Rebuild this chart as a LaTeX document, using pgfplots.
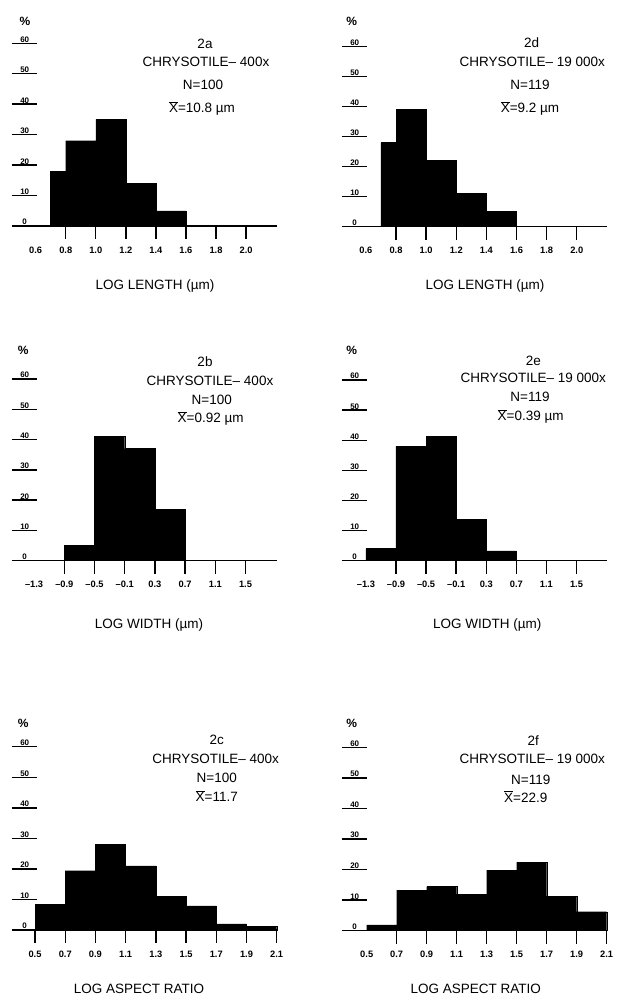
\documentclass[border=0pt]{standalone}
\usepackage{fontspec}
\setmainfont{Liberation Sans}
\usepackage{pgfplots}
\pgfplotsset{compat=1.18}
\pgfplotsset{
  panel/.style={
    scale only axis, clip=false, width=265pt, anchor=south west,
    ymin=0, ymax=60,
    axis x line=bottom, axis y line=left,
    x axis line style={-, line width=1.6pt},
    y axis line style={draw=none},
    major tick length=0pt,
    tick style={draw=none},
    ytick={0,10,...,60},
    yticklabel style={anchor=south, xshift=13pt, inner sep=0.8pt, font=\bfseries\fontsize{8}{8}\selectfont},
    xticklabel style={anchor=center, yshift=-24pt, font=\bfseries\fontsize{9.3}{10}\selectfont},
    /pgf/number format/assume math mode=true,
    unbounded coords=jump,
  },
  bars/.style={ybar interval, fill=black, draw=black, line width=0.4pt},
  tk/.style={ycomb, line width=1.4pt, black, mark=none},
  yl/.style={line width=1.4pt, black, mark=none},
}
\newcommand\tf{\fontsize{13.5}{14}\selectfont}
\newcommand\Tx[3]{\node[anchor=base,font=\tf,inner sep=0pt] at (#1pt,991.2pt-#2pt) {#3};}
\newcommand\Pct[2]{\node[font=\bfseries\fontsize{12}{12}\selectfont,inner sep=0pt] at (#1pt,996pt-#2pt) {\%};}
\newcommand\xb{$\overline{\mbox{X}}$}
\begin{document}
\begin{tikzpicture}
\useasboundingbox (0,0) rectangle (617pt,996pt);

% ---------- 2a ----------
\begin{axis}[panel, at={(11.7pt,770pt)}, height=182.7pt, xmin=0.4405, xmax=2.204,
  xtick={0.6,0.8,1.0,1.2,1.4,1.6,1.8,2.0}, xticklabels={0.6,0.8,1.0,1.2,1.4,1.6,1.8,2.0}]
\addplot[bars] coordinates {(0.7,18)(0.8,28)(1.0,35)(1.2,14)(1.4,5)(1.6,0)};
\addplot[tk] coordinates {(0.8,-4.3)(1.0,-4.3)(1.2,-4.3)(1.4,-4.3)(1.6,-4.3)(1.8,-4.3)(2.0,-4.3)};
\addplot[yl] coordinates {(0.4405,10)(0.607,10)(0.5,nan)(0.4405,20)(0.607,20)(0.5,nan)(0.4405,30)(0.607,30)(0.5,nan)(0.4405,40)(0.607,40)(0.5,nan)(0.4405,50)(0.607,50)(0.5,nan)(0.4405,60)(0.607,60)};
\end{axis}

% ---------- 2d ----------
\begin{axis}[panel, at={(341.7pt,769.3pt)}, height=180pt, xmin=0.4394, xmax=2.199,
  xtick={0.6,0.8,1.0,1.2,1.4,1.6,1.8,2.0}, xticklabels={0.6,0.8,1.0,1.2,1.4,1.6,1.8,2.0}]
\addplot[bars] coordinates {(0.7,28)(0.8,39)(1.0,22)(1.2,11)(1.4,5)(1.6,0)};
\addplot[tk] coordinates {(0.8,-4.3)(1.0,-4.3)(1.2,-4.3)(1.4,-4.3)(1.6,-4.3)(1.8,-4.3)(2.0,-4.3)};
\addplot[yl] coordinates {(0.4394,10)(0.605,10)(0.5,nan)(0.4394,20)(0.605,20)(0.5,nan)(0.4394,30)(0.605,30)(0.5,nan)(0.4394,40)(0.605,40)(0.5,nan)(0.4394,50)(0.605,50)(0.5,nan)(0.4394,60)(0.605,60)};
\end{axis}

% ---------- 2b ----------
\begin{axis}[panel, at={(11.7pt,435.3pt)}, height=181.7pt, xmin=-1.597, xmax=1.913,
  xtick={-1.3,-0.9,-0.5,-0.1,0.3,0.7,1.1,1.5}, xticklabels={–1.3,–0.9,–0.5,–0.1,0.3,0.7,1.1,1.5}]
\addplot[bars] coordinates {(-0.9,5)(-0.5,41)(-0.1,37)(0.3,17)(0.7,0)};
\addplot[tk] coordinates {(-0.9,-4.3)(-0.5,-4.3)(-0.1,-4.3)(0.3,-4.3)(0.7,-4.3)(1.1,-4.3)(1.5,-4.3)};
\addplot[yl] coordinates {(-1.597,10)(-1.266,10)(0,nan)(-1.597,20)(-1.266,20)(0,nan)(-1.597,30)(-1.266,30)(0,nan)(-1.597,40)(-1.266,40)(0,nan)(-1.597,50)(-1.266,50)(0,nan)(-1.597,60)(-1.266,60)};
\end{axis}

% ---------- 2e ----------
\begin{axis}[panel, at={(341.7pt,435.3pt)}, height=180.7pt, xmin=-1.622, xmax=1.902,
  xtick={-1.3,-0.9,-0.5,-0.1,0.3,0.7,1.1,1.5}, xticklabels={–1.3,–0.9,–0.5,–0.1,0.3,0.7,1.1,1.5}]
\addplot[bars] coordinates {(-1.3,4)(-0.9,38)(-0.5,41.4)(-0.1,13.7)(0.3,3.3)(0.7,0)};
\addplot[tk] coordinates {(-0.9,-4.3)(-0.5,-4.3)(-0.1,-4.3)(0.3,-4.3)(0.7,-4.3)(1.1,-4.3)(1.5,-4.3)};
\addplot[yl] coordinates {(-1.622,10)(-1.29,10)(0,nan)(-1.622,20)(-1.29,20)(0,nan)(-1.622,30)(-1.29,30)(0,nan)(-1.622,40)(-1.29,40)(0,nan)(-1.622,50)(-1.29,50)(0,nan)(-1.622,60)(-1.29,60)};
\end{axis}

% ---------- 2c ----------
\begin{axis}[panel, at={(11.7pt,66pt)}, height=183.3pt, xmin=0.3457, xmax=2.1,
  xtick={0.5,0.7,0.9,1.1,1.3,1.5,1.7,1.9,2.1}, xticklabels={0.5,0.7,0.9,1.1,1.3,1.5,1.7,1.9,2.1}]
\addplot[bars] coordinates {(0.5,8.5)(0.7,19.4)(0.9,28.1)(1.1,21)(1.3,11.1)(1.5,7.9)(1.7,2.0)(1.9,1.3)(2.1,0)};
\addplot[tk] coordinates {(0.5,-4.3)(0.7,-4.3)(0.9,-4.3)(1.1,-4.3)(1.3,-4.3)(1.5,-4.3)(1.7,-4.3)(1.9,-4.3)(2.1,-4.3)};
\addplot[yl] coordinates {(0.3457,10)(0.511,10)(0.4,nan)(0.3457,20)(0.511,20)(0.4,nan)(0.3457,30)(0.511,30)(0.4,nan)(0.3457,40)(0.511,40)(0.4,nan)(0.3457,50)(0.511,50)(0.4,nan)(0.3457,60)(0.511,60)};
\end{axis}

% ---------- 2f ----------
\begin{axis}[panel, at={(341.7pt,65.3pt)}, height=183.4pt, xmin=0.3333, xmax=2.1,
  xtick={0.5,0.7,0.9,1.1,1.3,1.5,1.7,1.9,2.1}, xticklabels={0.5,0.7,0.9,1.1,1.3,1.5,1.7,1.9,2.1}]
\addplot[bars] coordinates {(0.5,1.9)(0.7,13.3)(0.9,14.4)(1.1,12)(1.3,19.8)(1.5,22.4)(1.7,11.3)(1.9,6.2)(2.1,0)};
\addplot[tk] coordinates {(0.7,-4.3)(0.9,-4.3)(1.1,-4.3)(1.3,-4.3)(1.5,-4.3)(1.7,-4.3)(1.9,-4.3)(2.1,-4.3)};
\addplot[yl] coordinates {(0.3333,10)(0.5,10)(0.4,nan)(0.3333,20)(0.5,20)(0.4,nan)(0.3333,30)(0.5,30)(0.4,nan)(0.3333,40)(0.5,40)(0.4,nan)(0.3333,50)(0.5,50)(0.4,nan)(0.3333,60)(0.5,60)};
\end{axis}

% ---------- texts ----------
\Pct{25}{21.7}\Pct{351.7}{21.7}\Pct{23.3}{350.7}\Pct{351.7}{350.7}\Pct{23.3}{723.3}\Pct{351.7}{723.3}

\Tx{205}{43.3}{2a}
\Tx{206}{61.7}{CHRYSOTILE– 400x}
\Tx{203}{85}{N=100}
\Tx{202}{108}{\xb=10.8 µm}

\Tx{531.7}{42.7}{2d}
\Tx{532.3}{61.7}{CHRYSOTILE– 19 000x}
\Tx{530}{85}{N=119}
\Tx{530}{108}{\xb=9.2 µm}

\Tx{205}{361.7}{2b}
\Tx{210}{380.7}{CHRYSOTILE– 400x}
\Tx{211.7}{399.3}{N=100}
\Tx{210.7}{417.7}{\xb=0.92 µm}

\Tx{533.3}{360.7}{2e}
\Tx{533.3}{377.3}{CHRYSOTILE– 19 000x}
\Tx{530}{396.7}{N=119}
\Tx{530.7}{416}{\xb=0.39 µm}

\Tx{216.7}{739.3}{2c}
\Tx{215.7}{759}{CHRYSOTILE– 400x}
\Tx{216.7}{777.3}{N=100}
\Tx{216.7}{796.7}{\xb=11.7}

\Tx{533.3}{740.7}{2f}
\Tx{532.3}{759}{CHRYSOTILE– 19 000x}
\Tx{530.7}{779.3}{N=119}
\Tx{525.7}{797.3}{\xb=22.9}

\Tx{155}{285}{LOG LENGTH (µm)}
\Tx{485}{285}{LOG LENGTH (µm)}
\Tx{149}{623.3}{LOG WIDTH (µm)}
\Tx{487.3}{623.3}{LOG WIDTH (µm)}
\Tx{139}{988.3}{LOG ASPECT RATIO}
\Tx{475.7}{988.3}{LOG ASPECT RATIO}
\end{tikzpicture}
\end{document}
